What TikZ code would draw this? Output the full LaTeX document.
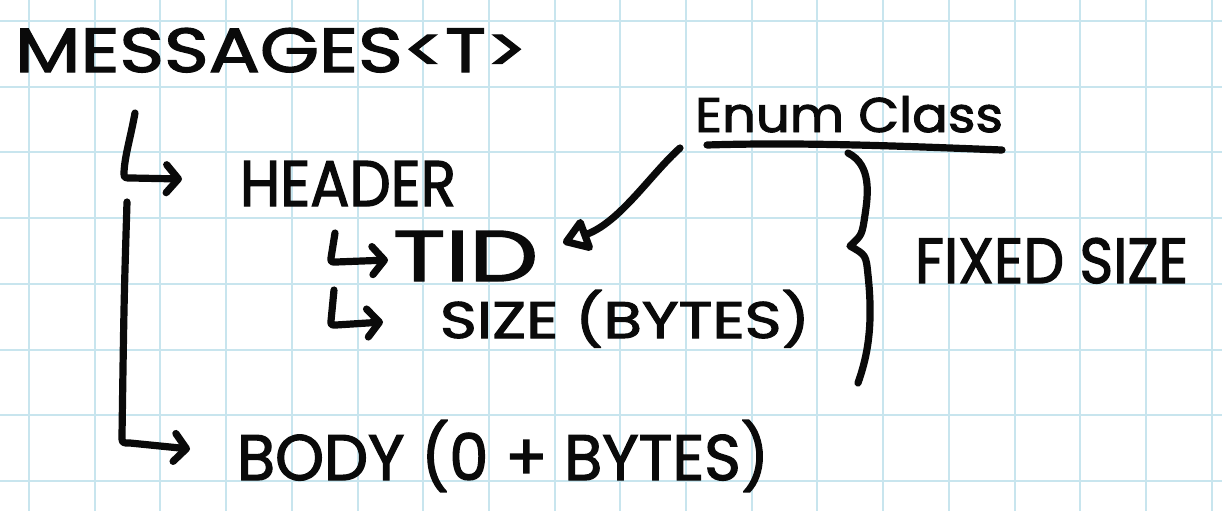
\documentclass[tikz,border=0pt]{standalone}
\usepackage{fontspec}
\setmainfont{Poppins}[FakeBold=2]
\usetikzlibrary{arrows.meta,calc}
\definecolor{gridblue}{RGB}{200,229,238}
\definecolor{ink}{RGB}{10,10,10}
\newcommand{\fit}[3]{\resizebox{#1}{#2}{#3}}
\tikzset{
  hand/.style={draw=ink, line width=3.6pt, line cap=round, line join=round},
  barb/.style={-{Straight Barb[length=6pt,width=14pt,round]}},
  tri/.style={-{Triangle[open,length=15pt,width=19pt,round]}},
  label/.style={inner sep=0pt, outer sep=0pt, anchor=base west, text=ink},
  gridline/.style={draw=gridblue, line width=1pt}
}
\begin{document}
\begin{tikzpicture}[x=0.5pt,y=-0.5pt]
\useasboundingbox (0,0) rectangle (1222,511);
\fill[white] (0,0) rectangle (1222,511);
% grid
\foreach \k in {0,...,18} {\draw[gridline] ({29+65.7*\k},0) -- ({29+65.7*\k},511);}
\foreach \k in {0,...,7} {\draw[gridline] (0,{21+65.7*\k}) -- (1222,{21+65.7*\k});}
% texts
\node[label] (msg) at (15,72) {\fit{256pt}{22pt}{MESSAGES<T>}};
\node[label] (header) at (240,206) {\fit{108pt}{22.5pt}{HEADER}};
\node[label] (tid) at (393,281) {\fit{72.5pt}{25pt}{TID}};
\node[label] (size) at (440,338) {\fit{185pt}{24pt}{SIZE (BYTES)}};
\node[label] (body) at (237,480) {\fit{266pt}{30pt}{BODY (0 + BYTES)}};
\node[label] (enum) at (695,132) {\fit{154pt}{18pt}{Enum Class}};
\node[label] (fixed) at (915,283) {\fit{136.5pt}{22.5pt}{FIXED SIZE}};
% connector coordinates
\coordinate (m1) at (135,113);
\coordinate (h1) at (182,179);
\coordinate (b0) at (127,202);
\coordinate (b1) at (190,449);
\coordinate (t0) at (335,233);
\coordinate (t1) at (388,260);
\coordinate (s0) at (334,290);
\coordinate (s1) at (383,322);
\coordinate (e0) at (680,148);
\coordinate (e1) at (563,243);
\coordinate (u0) at (707,145);
\coordinate (u1) at (1002,150);
\coordinate (br0) at (848,153);
\coordinate (brtip) at (850,246);
\coordinate (br1) at (858,383);
% connectors
\draw[hand,barb] (m1) .. controls (130,140) and (125,155) .. (124,172) .. controls (124,178) .. (132,178) -- (h1);
\draw[hand,barb] (b0) .. controls (124,300) .. (122,436) .. controls (122,443) .. (130,443) -- (b1);
\draw[hand,barb] (t0) -- (331,258) .. controls (331,262) .. (336,262) -- (t1);
\draw[hand,barb] (s0) -- (331,321) .. controls (331,325) .. (336,325) -- (s1);
\draw[hand,tri] (e0) .. controls (650,175) and (620,222) .. (e1);
\draw[hand] (u0) .. controls (800,142) and (900,146) .. (u1);
\draw[hand] (br0) .. controls (872,165) and (868,195) .. (865,215) .. controls (862,235) .. (brtip) .. controls (866,255) .. (868,275) .. controls (874,330) and (866,360) .. (br1);
\end{tikzpicture}
\end{document}
